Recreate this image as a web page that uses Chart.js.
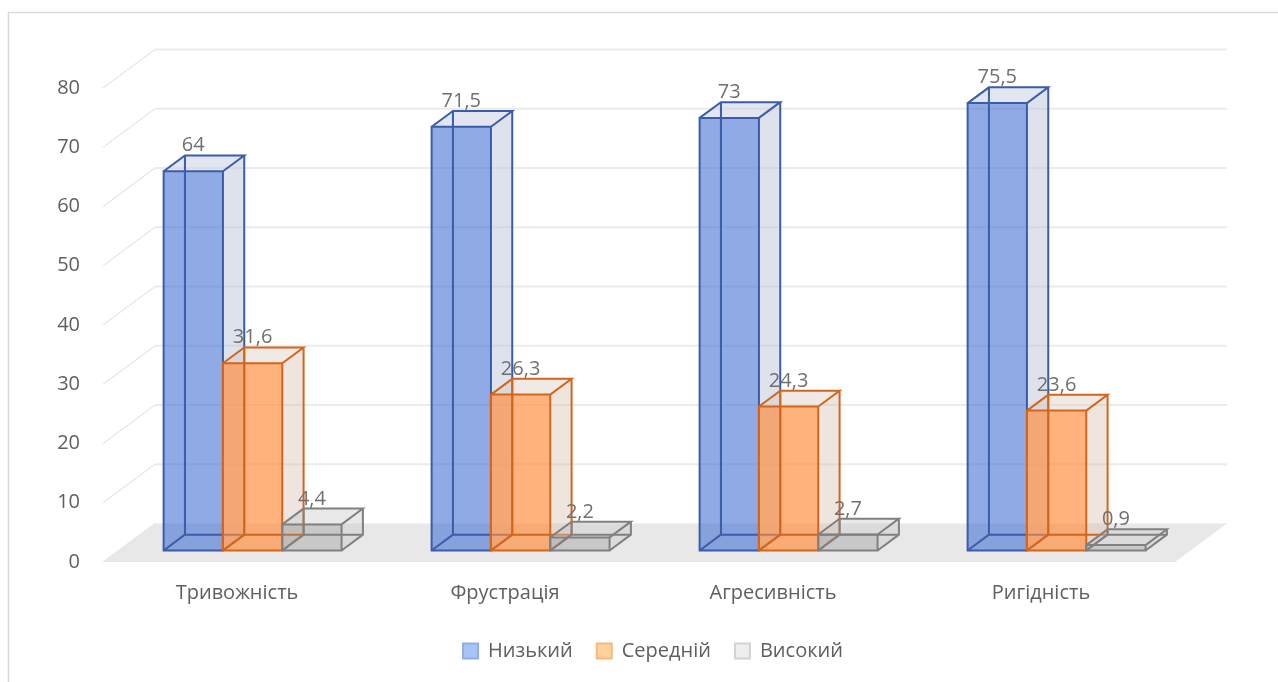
<!DOCTYPE html>
<html lang="uk">
<head>
<meta charset="utf-8">
<title>Рівні емоційних станів</title>
<script src="https://cdn.jsdelivr.net/npm/chart.js@4.4.1/dist/chart.umd.min.js"></script>
<style>
  html, body { margin: 0; padding: 0; background: #fff; }
  #wrap { width: 1278px; height: 682px; position: relative; }
</style>
</head>
<body>
<div id="wrap"><canvas id="levelsChart" width="1278" height="682"></canvas></div>
<script>
// data
const categories = ['Тривожність', 'Фрустрація', 'Агресивність', 'Ригідність'];
const seriesNames = ['Низький', 'Середній', 'Високий'];
const lowValues = [64, 71.5, 73, 75.5];
const midValues = [31.6, 26.3, 24.3, 23.6];
const highValues = [4.4, 2.2, 2.7, 0.9];
const yMin = 0;
const yMax = 80;
const yStep = 10;

// oblique depth of the plot box and where the bars sit inside it
const DEPTH_X = 52;
const DEPTH_Y = -38.5;
const BAR_NEAR = 0.30;
const BAR_FAR = 0.71;

const FONT = '"Open Sans", "Noto Sans", sans-serif';
const TEXT_COLOR = '#5f5f5f';

const boxStyles = [
    { front: 'rgba(68,114,212,0.6)', side: 'rgba(190,198,220,0.5)', top: 'rgba(196,206,228,0.5)', edge: '#3b5da9' },
    { front: 'rgba(255,140,60,0.67)', side: 'rgba(215,190,175,0.4)', top: 'rgba(220,200,188,0.4)', edge: '#d2661c' },
    { front: 'rgba(140,140,140,0.35)', side: 'rgba(200,200,200,0.4)', top: 'rgba(200,200,200,0.4)', edge: '#808080' }
];

function poly(ctx, pts) {
    ctx.beginPath();
    ctx.moveTo(pts[0][0], pts[0][1]);
    for (let k = 1; k < pts.length; k++) ctx.lineTo(pts[k][0], pts[k][1]);
    ctx.closePath();
}

function drawBox(ctx, x0, x1, yTop, yBase, st) {
    const nx = BAR_NEAR * DEPTH_X, ny = BAR_NEAR * DEPTH_Y;
    const fx = BAR_FAR * DEPTH_X, fy = BAR_FAR * DEPTH_Y;
    const fl = x0 + nx, fr = x1 + nx, ft = yTop + ny, fb = yBase + ny;
    const bl = x0 + fx, br = x1 + fx, bt = yTop + fy, bb = yBase + fy;

    // right side and top
    poly(ctx, [[fr, ft], [br, bt], [br, bb], [fr, fb]]);
    ctx.fillStyle = st.side;
    ctx.fill();
    poly(ctx, [[fl, ft], [bl, bt], [br, bt], [fr, ft]]);
    ctx.fillStyle = st.top;
    ctx.fill();
    // front
    ctx.fillStyle = st.front;
    ctx.fillRect(fl, ft, fr - fl, fb - ft);

    ctx.strokeStyle = st.edge;
    ctx.lineWidth = 2;
    ctx.lineJoin = 'miter';
    // edges seen through the front
    ctx.beginPath();
    ctx.moveTo(bl, bt); ctx.lineTo(bl, bb); ctx.lineTo(br, bb);
    ctx.moveTo(fl, fb); ctx.lineTo(bl, bb);
    ctx.stroke();
    // outline
    ctx.beginPath();
    ctx.rect(fl, ft, fr - fl, fb - ft);
    ctx.moveTo(fl, ft); ctx.lineTo(bl, bt); ctx.lineTo(br, bt); ctx.lineTo(fr, ft);
    ctx.moveTo(br, bt); ctx.lineTo(br, bb); ctx.lineTo(fr, fb);
    ctx.stroke();

    return { cx: (fl + fr) / 2, top: ft };
}

const bars3d = {
    id: 'bars3d',
    beforeDraw(chart) {
        const { ctx } = chart;
        ctx.save();
        ctx.strokeStyle = '#d9d9d9';
        ctx.lineWidth = 1.5;
        ctx.strokeRect(8.5, 12.5, 1400, 800);
        ctx.restore();
    },
    beforeDatasetsDraw(chart) {
        const { ctx, chartArea: a, scales: { y } } = chart;
        ctx.save();

        // side wall and back wall gridlines
        y.ticks.forEach(t => {
            const py = y.getPixelForValue(t.value);
            ctx.beginPath();
            ctx.moveTo(a.left, py);
            ctx.lineTo(a.left + DEPTH_X, py + DEPTH_Y);
            ctx.strokeStyle = '#dcdcdc';
            ctx.lineWidth = 1;
            ctx.stroke();
            if (t.value > yMin) {
                ctx.beginPath();
                ctx.moveTo(a.left + DEPTH_X, py + DEPTH_Y);
                ctx.lineTo(a.right + DEPTH_X, py + DEPTH_Y);
                ctx.strokeStyle = '#ebebeb';
                ctx.lineWidth = 2;
                ctx.stroke();
            }
        });

        // floor
        const base = y.getPixelForValue(0);
        poly(ctx, [[a.left, base], [a.right, base], [a.right + DEPTH_X, base + DEPTH_Y], [a.left + DEPTH_X, base + DEPTH_Y]]);
        ctx.fillStyle = '#e8e8e8';
        ctx.fill();

        // boxes, category by category, left to right
        const labels = [];
        categories.forEach((c, j) => {
            chart.data.datasets.forEach((ds, i) => {
                const el = chart.getDatasetMeta(i).data[j];
                const v = ds.data[j];
                const r = drawBox(ctx, el.x - el.width / 2, el.x + el.width / 2,
                    y.getPixelForValue(v), base, boxStyles[i]);
                labels.push({ text: String(v).replace('.', ','), x: r.cx, y: r.top - 25.5 });
            });
        });

        // value labels
        ctx.font = '20px ' + FONT;
        ctx.fillStyle = '#707070';
        ctx.textAlign = 'center';
        ctx.textBaseline = 'middle';
        labels.forEach(l => ctx.fillText(l.text, l.x, l.y));

        ctx.restore();
        return false;
    }
};

const ctx = document.getElementById('levelsChart').getContext('2d');
new Chart(ctx, {
    type: 'bar',
    data: {
        labels: categories,
        datasets: [
            { label: seriesNames[0], data: lowValues, backgroundColor: '#a9c3f2', borderColor: '#8eaeea', borderWidth: 2 },
            { label: seriesNames[1], data: midValues, backgroundColor: '#ffd39e', borderColor: '#f9b77c', borderWidth: 2 },
            { label: seriesNames[2], data: highValues, backgroundColor: '#eeeeee', borderColor: '#d2d2d2', borderWidth: 2 }
        ]
    },
    options: {
        responsive: false,
        animation: false,
        categoryPercentage: 0.664,
        barPercentage: 1,
        layout: { padding: { left: 28, right: 0, top: 88, bottom: 11 } },
        scales: {
            x: {
                grid: { display: false, drawTicks: false },
                border: { display: false },
                ticks: { color: TEXT_COLOR, font: { family: FONT, size: 20 }, padding: 19 },
                afterFit: s => { s.height = 55; }
            },
            y: {
                min: yMin,
                max: yMax,
                grid: { display: false, drawTicks: false },
                border: { display: false },
                ticks: { stepSize: yStep, color: TEXT_COLOR, font: { family: FONT, size: 20 }, padding: 23 },
                afterFit: s => { s.width = 75; }
            },
            gutter: {
                type: 'linear',
                position: 'right',
                grid: { display: false, drawTicks: false },
                border: { display: false },
                ticks: { display: false },
                afterFit: s => { s.width = 103; }
            }
        },
        plugins: {
            legend: {
                position: 'bottom',
                labels: {
                    color: TEXT_COLOR,
                    font: { family: FONT, size: 20 },
                    boxWidth: 15,
                    boxHeight: 15,
                    padding: 24
                }
            },
            tooltip: { enabled: false }
        }
    },
    plugins: [bars3d]
});
</script>
</body>
</html>
